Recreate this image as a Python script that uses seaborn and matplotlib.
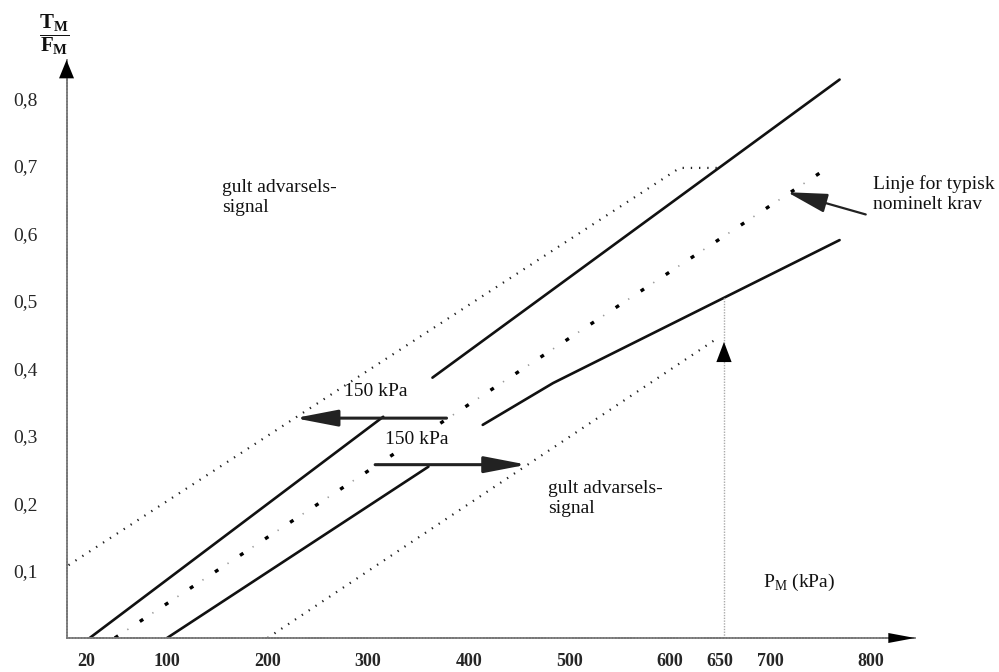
import matplotlib
matplotlib.use("Agg")
import matplotlib.pyplot as plt
import seaborn as sns


# ---- verdier lest av figuren (x: P_M i kPa, y: T_M/F_M) ----
upper_a_x = [23, 315]
upper_a_y = [0.0, 0.328]
upper_b_x = [364, 769]
upper_b_y = [0.386, 0.828]

lower_a_x = [100, 360]
lower_a_y = [0.0, 0.254]
lower_b_x = [414, 484, 769]
lower_b_y = [0.316, 0.378, 0.590]

nominal_x = [48, 757]
nominal_y = [0.0, 0.697]

warn_hi_x = [2, 610, 648]
warn_hi_y = [0.108, 0.697, 0.697]
warn_lo_x = [200, 647]
warn_lo_y = [0.0, 0.444]

# piler: (hale, spiss)
shift_left = [(378, 0.326), (227, 0.326)]
shift_right = [(307, 0.257), (458, 0.257)]
nominal_arrow = [(795, 0.628), (717, 0.661)]
p650_x = 654
p650_top = 0.505
p650_tip = 0.439

x_major = [100, 200, 300, 400, 500, 600, 700, 800]
x_minor = [20, 650]
y_ticks = [0.1, 0.2, 0.3, 0.4, 0.5, 0.6, 0.7, 0.8]
y_labels = ["0,1", "0,2", "0,3", "0,4", "0,5", "0,6", "0,7", "0,8"]

x_max = 844
y_max = 0.857


sns.set_theme(style="white")
plt.rcParams["font.family"] = ["Liberation Serif", "DejaVu Serif"]
plt.rcParams["mathtext.fontset"] = "custom"
plt.rcParams["mathtext.rm"] = "Liberation Serif"
plt.rcParams["mathtext.bf"] = "Liberation Serif:bold"

fig = plt.figure(figsize=(9.99, 6.72), dpi=100)
ax = fig.add_axes([0.0666, 0.0506, 0.8493, 0.8601])
ax.set_xlim(0, x_max)
ax.set_ylim(0, y_max)

solid = dict(color="#111111", lw=1.9, estimator=None, sort=False, legend=False)
sns.lineplot(x=upper_a_x, y=upper_a_y, ax=ax, **solid)
sns.lineplot(x=upper_b_x, y=upper_b_y, ax=ax, **solid)
sns.lineplot(x=lower_a_x, y=lower_a_y, ax=ax, **solid)
sns.lineplot(x=lower_b_x, y=lower_b_y, ax=ax, **solid)

dotted = dict(color="#222222", lw=1.6, linestyle=(0, (0.6, 3.1)),
              estimator=None, sort=False, legend=False)
sns.lineplot(x=warn_hi_x, y=warn_hi_y, ax=ax, **dotted)
sns.lineplot(x=warn_lo_x, y=warn_lo_y, ax=ax, **dotted)

# nominell linje: svarte streker med grå prikker imellom
sns.lineplot(x=nominal_x, y=nominal_y, ax=ax, color="black", lw=2.4,
             linestyle=(0, (1.2, 7.8)), estimator=None, sort=False, legend=False)
sns.lineplot(x=nominal_x, y=nominal_y, ax=ax, color="#999999", lw=1.2,
             linestyle=(9, (0.8, 17.2)), estimator=None, sort=False, legend=False)

# 650 kPa hjelpelinje
sns.lineplot(x=[p650_x, p650_x], y=[0, p650_top], ax=ax, color="#aaaaaa", lw=1.0,
             linestyle=(0, (1, 1)), estimator=None, sort=False, legend=False)
ax.annotate("", xy=(p650_x, p650_tip), xytext=(p650_x, p650_tip - 0.03),
            arrowprops=dict(arrowstyle="-|>,head_length=1.45,head_width=0.55",
                            mutation_scale=10, color="black", lw=0,
                            shrinkA=0, shrinkB=0))

for tail, tip in [shift_left, shift_right]:
    ax.annotate("", xy=tip, xytext=tail,
                arrowprops=dict(arrowstyle="-|>,head_length=1.3,head_width=0.25",
                                mutation_scale=20, color="#222222", lw=2.2,
                                shrinkA=0, shrinkB=0))
ax.annotate("", xy=nominal_arrow[1], xytext=nominal_arrow[0],
            arrowprops=dict(arrowstyle="-|>,head_length=1.25,head_width=0.3",
                            mutation_scale=20, color="#222222", lw=1.6,
                            shrinkA=0, shrinkB=0))

#### AKSER ####
for side in ["top", "right"]:
    ax.spines[side].set_visible(False)
for side in ["left", "bottom"]:
    ax.spines[side].set_color("#777777")
    ax.spines[side].set_linewidth(1.3)
    ax.spines[side].set_linestyle((0, (1, 0.7)))

head = dict(arrowstyle="-|>,head_length=1.6,head_width=0.3", mutation_scale=12,
            color="black", lw=0, shrinkA=0, shrinkB=0)
ax.annotate("", xy=(x_max, 0), xytext=(x_max - 30, 0), arrowprops=head, annotation_clip=False)
head_y = dict(head, arrowstyle="-|>,head_length=1.1,head_width=0.45")
ax.annotate("", xy=(0, y_max), xytext=(0, y_max - 0.03), arrowprops=head_y, annotation_clip=False)

ax.set_xticks(x_major)
ax.set_xticklabels([str(v) for v in x_major])
ax.set_xticks(x_minor, minor=True)
ax.set_xticklabels([str(v) for v in x_minor], minor=True)
ax.set_yticks(y_ticks)
ax.set_yticklabels(y_labels)
ax.tick_params(axis="x", which="major", direction="out", length=9, width=1.2,
               color="#888888", pad=2, labelsize=13)
ax.tick_params(axis="x", which="minor", length=0, pad=11, labelsize=13)
ax.tick_params(axis="y", direction="out", length=14, width=1.2,
               color="#888888", pad=7, labelsize=14)
for lab in ax.get_xticklabels(which="both"):
    lab.set_fontweight("bold")
ax.set_xlabel("")
ax.set_ylabel("")

#### TEKST ####
txt = dict(fontsize=14, color="#111111", linespacing=1.25)
ax.text(155, 0.6535, "gult advarsels-\nsignal", ha="left", va="center", **txt)
ax.text(479, 0.207, "gult advarsels-\nsignal", ha="left", va="center", **txt)
ax.text(802, 0.658, "Linje for typisk\nnominelt krav", ha="left", va="center", **txt)
ax.text(308, 0.365, "150 kPa", ha="center", va="center", **txt)
ax.text(348, 0.294, "150 kPa", ha="center", va="center",
        bbox=dict(facecolor="white", edgecolor="none", pad=0.5), **txt)
ax.text(693, 0.083, r"P$_\mathrm{M}$ (kPa)", ha="left", va="center", **txt)
ax.text(-12, 0.895, r"$\dfrac{\mathbf{T_M}}{\mathbf{F_M}}$", ha="center", va="center",
        fontsize=15, color="#111111")

fig.savefig("out.png", dpi=100)
plt.close()
